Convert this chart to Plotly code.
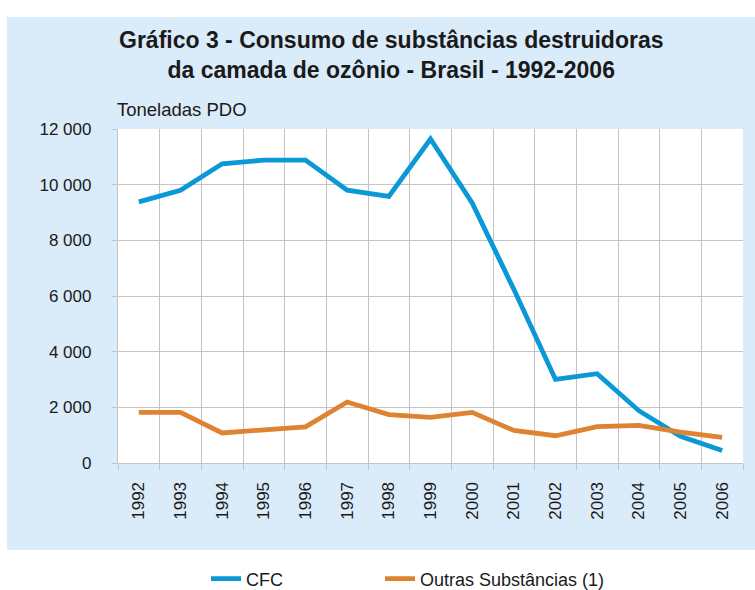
import plotly.graph_objects as go

years = ["1992", "1993", "1994", "1995", "1996", "1997", "1998", "1999",
         "2000", "2001", "2002", "2003", "2004", "2005", "2006"]
cfc = [9380, 9800, 10750, 10880, 10880, 9800, 9580, 11640,
       9340, 6240, 3000, 3210, 1880, 960, 450]
outras = [1820, 1820, 1080, 1200, 1300, 2190, 1740, 1640,
          1820, 1170, 980, 1310, 1350, 1110, 920]
y_ticks = [0, 2000, 4000, 6000, 8000, 10000, 12000]

title_text = "Gráfico 3 - Consumo de substâncias destruidoras<br>da camada de ozônio - Brasil - 1992-2006"
unit_text = "Toneladas PDO"

BLUE_BG = "#DAEBF9"
GRID = "#C4C4C4"
FONT = "Liberation Sans, Arial, sans-serif"
TXT = "#1a1a1a"

fig = go.Figure()
fig.add_trace(go.Scatter(x=years, y=cfc, mode="lines", name="CFC",
                         line=dict(color="#0A98D6", width=4.8), legend="legend"))
fig.add_trace(go.Scatter(x=years, y=outras, mode="lines", name="Outras Substâncias (1)",
                         line=dict(color="#DE8331", width=4.8), legend="legend2"))

L, R, T, B = 118, 12, 129, 127
W, H = 755, 590
pw, ph = W - L - R, H - T - B

def px_x(x):
    return (x - L) / pw

def px_y(y):
    return (H - B - y) / ph

# light blue panel, then white plotting area on top of it
fig.add_shape(type="rect", xref="paper", yref="paper",
              x0=px_x(7), x1=px_x(760), y0=px_y(550), y1=px_y(17),
              fillcolor=BLUE_BG, line=dict(width=0), layer="below")
fig.add_shape(type="rect", xref="paper", yref="paper",
              x0=0, x1=1, y0=0, y1=1,
              fillcolor="white", line=dict(width=0), layer="below")

fig.add_annotation(text=unit_text, xref="paper", yref="paper",
                   x=px_x(115), y=px_y(110), xanchor="left", yanchor="middle",
                   showarrow=False, font=dict(family=FONT, size=18.5, color=TXT))

fig.add_annotation(text=title_text, xref="paper", yref="paper",
                   x=px_x(391), y=px_y(55), xanchor="center", yanchor="middle",
                   showarrow=False, align="center",
                   font=dict(family=FONT, size=23, color=TXT, weight="bold"))

leg_common = dict(orientation="h", xref="container", yref="container",
                  xanchor="left", y=1 - 579 / H, yanchor="middle",
                  font=dict(family=FONT, size=18, color=TXT),
                  bgcolor="rgba(0,0,0,0)")

fig.update_layout(
    width=W, height=H,
    margin=dict(l=L, r=R, t=T, b=B),
    paper_bgcolor="white",
    plot_bgcolor="white",
    separators=", ",
    font=dict(family=FONT, color=TXT),
    showlegend=True,
    legend=dict(x=206 / W, **leg_common),
    legend2=dict(x=380 / W, **leg_common),
)

fig.update_xaxes(type="category", tickson="boundaries", ticks="outside", ticklen=6,
                 tickcolor=GRID, showgrid=True, gridcolor=GRID, gridwidth=1.3,
                 showline=True, linecolor=GRID, linewidth=1.3,
                 tickangle=-90, tickfont=dict(family=FONT, size=17, color=TXT),
                 ticklabelstandoff=11,
                 range=[-0.5, 14.5], fixedrange=True)
fig.update_yaxes(range=[0, 12000], tickvals=y_ticks, tickformat=",.0f",
                 ticks="outside", ticklen=5, tickcolor=GRID,
                 showgrid=True, gridcolor=GRID, gridwidth=1.3,
                 showline=True, linecolor=GRID, linewidth=1.3, zeroline=False,
                 tickfont=dict(family=FONT, size=17, color=TXT), ticklabelstandoff=17,
                 fixedrange=True)

fig.write_html("out.html", config={"displayModeBar": False},
               post_script="document.body.style.margin='0';document.body.style.padding='0';document.body.style.overflow='hidden';")
